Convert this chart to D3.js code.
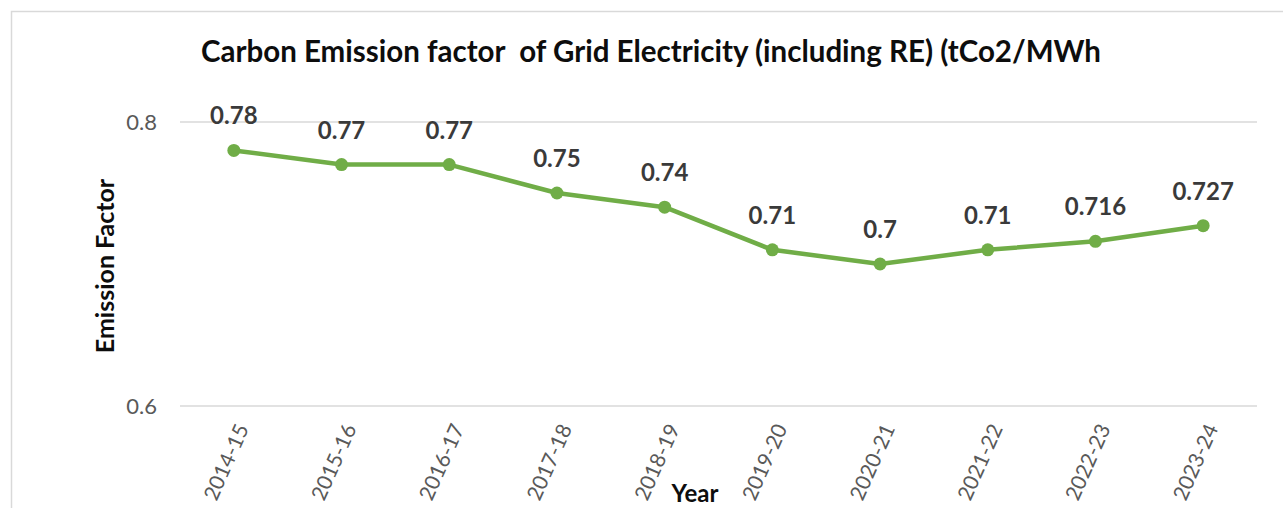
<!DOCTYPE html>
<html>
<head>
<meta charset="utf-8">
<script src="https://cdn.jsdelivr.net/npm/d3@7"></script>
<style>
  body { margin: 0; background: #fff; }
  svg { display: block; }
</style>
</head>
<body>
<div id="chart"></div>
<script>
var years = ["2014-15", "2015-16", "2016-17", "2017-18", "2018-19", "2019-20", "2020-21", "2021-22", "2022-23", "2023-24"];
var factors = [0.78, 0.77, 0.77, 0.75, 0.74, 0.71, 0.70, 0.71, 0.716, 0.727];
var labels = ["0.78", "0.77", "0.77", "0.75", "0.74", "0.71", "0.7", "0.71", "0.716", "0.727"];
var yTicks = [0.6, 0.8];

var W = 1283, H = 508;
var font = "Lato, 'Open Sans', sans-serif";
var green = "#70ad47";

var svg = d3.select("#chart").append("svg")
  .attr("width", W)
  .attr("height", H);

// chart frame
svg.append("rect")
  .attr("x", 11.5).attr("y", 11.5)
  .attr("width", W).attr("height", H)
  .attr("fill", "none")
  .attr("stroke", "#d9d9d9")
  .attr("stroke-width", 1.5);

var x = d3.scaleBand().domain(years).range([180, 1257]);
var y = d3.scaleLinear().domain([0.6, 0.8]).range([406, 122]);

// gridlines
svg.selectAll(".grid")
  .data(yTicks)
  .enter()
  .append("line")
  .attr("x1", 180).attr("x2", 1257)
  .attr("y1", function(d) { return y(d); })
  .attr("y2", function(d) { return y(d); })
  .attr("stroke", "#d9d9d9")
  .attr("stroke-width", 1.5);

var yAxis = svg.append("g")
  .attr("transform", "translate(180,0)")
  .call(d3.axisLeft(y).tickValues(yTicks).tickSize(0).tickPadding(23).tickFormat(d3.format(".1f")));
yAxis.select(".domain").remove();
yAxis.selectAll("text")
  .attr("font-family", font)
  .attr("font-size", "22px")
  .attr("fill", "#595959");

var xAxis = svg.append("g")
  .attr("transform", "translate(0,406)")
  .call(d3.axisBottom(x).tickSize(0));
xAxis.select(".domain").remove();
xAxis.selectAll("text")
  .attr("font-family", font)
  .attr("font-size", "21px")
  .attr("fill", "#595959")
  .attr("text-anchor", "end")
  .attr("dy", "0.35em")
  .attr("transform", "translate(6,18) rotate(-66)");

// line
var line = d3.line()
  .x(function(d, i) { return x(years[i]) + x.bandwidth() / 2; })
  .y(function(d) { return y(d); });

svg.append("path")
  .datum(factors)
  .attr("d", line)
  .attr("fill", "none")
  .attr("stroke", green)
  .attr("stroke-width", 4.5)
  .attr("stroke-linejoin", "round");

svg.selectAll(".dot")
  .data(factors)
  .enter()
  .append("circle")
  .attr("cx", function(d, i) { return x(years[i]) + x.bandwidth() / 2; })
  .attr("cy", function(d) { return y(d); })
  .attr("r", 6.5)
  .attr("fill", green);

svg.selectAll(".lbl")
  .data(factors)
  .enter()
  .append("text")
  .text(function(d, i) { return labels[i]; })
  .attr("x", function(d, i) { return x(years[i]) + x.bandwidth() / 2; })
  .attr("y", function(d) { return y(d) - 26; })
  .attr("text-anchor", "middle")
  .attr("font-family", font)
  .attr("font-weight", "bold")
  .attr("font-size", "24px")
  .attr("fill", "#3a3a3a");

// titles
svg.append("text")
  .text("Carbon Emission factor  of Grid Electricity (including RE) (tCo2/MWh")
  .attr("x", 651).attr("y", 62)
  .attr("text-anchor", "middle")
  .style("white-space", "pre")
  .attr("font-family", font)
  .attr("font-weight", "bold")
  .attr("font-size", "29.5px")
  .attr("fill", "#0d0d0d");

svg.append("text")
  .text("Emission Factor")
  .attr("transform", "translate(114,266) rotate(-90)")
  .attr("text-anchor", "middle")
  .attr("font-family", font)
  .attr("font-weight", "bold")
  .attr("font-size", "25px")
  .attr("fill", "#0d0d0d");

svg.append("text")
  .text("Year")
  .attr("x", 695).attr("y", 502)
  .attr("text-anchor", "middle")
  .attr("font-family", font)
  .attr("font-weight", "bold")
  .attr("font-size", "24px")
  .attr("fill", "#0d0d0d");
</script>
</body>
</html>
